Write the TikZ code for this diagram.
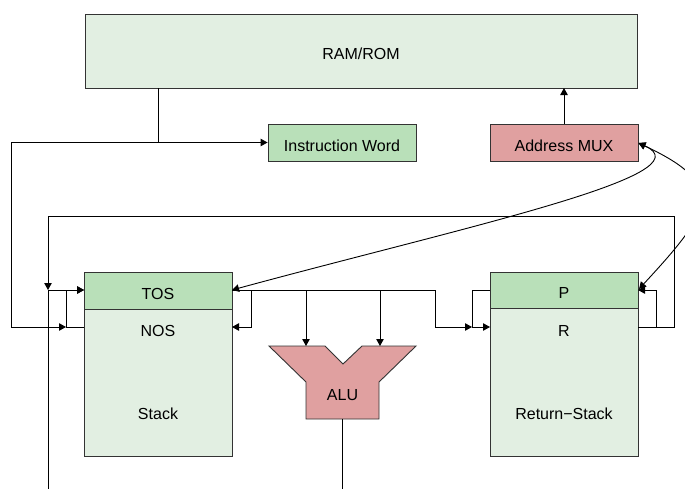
\documentclass[tikz,border=0pt]{standalone}
\usepackage{fontspec}
\setmainfont{Liberation Sans}
\usetikzlibrary{arrows.meta,calc}
\definecolor{lightgreen}{HTML}{E2EFE2}
\definecolor{midgreen}{HTML}{B9E0B9}
\definecolor{pinkred}{HTML}{E0A0A0}
\definecolor{edgegray}{HTML}{333333}
\tikzset{
  box/.style={draw=edgegray,line width=0.9pt,inner sep=0pt,font=\fontsize{16}{19}\selectfont,text height=17pt,text depth=0pt},
  conn/.style={draw=black,line width=0.9pt},
  arr/.style={conn,-{Triangle[length=7pt,width=7.5pt]}},
  arrboth/.style={conn,{Triangle[length=7pt,width=7.5pt]}-{Triangle[length=7pt,width=7.5pt]}},
  lbl/.style={font=\fontsize{16}{19}\selectfont,inner sep=0pt},
}
\begin{document}
\begin{tikzpicture}[x=1pt,y=-1pt]
\useasboundingbox (0,0) rectangle (685,488);
\clip (0,0) rectangle (685,488);
\fill[white] (0,0) rectangle (685,488);

% boxes
\node[box,fill=lightgreen,minimum width=552pt,minimum height=74pt] (ram) at (361,51) {RAM/ROM};
\node[box,fill=midgreen,minimum width=148pt,minimum height=37pt] (iw) at (342,142.5) {Instruction Word};
\node[box,fill=pinkred,minimum width=148pt,minimum height=37pt] (mux) at (564,142.5) {Address MUX};

\node[box,fill=lightgreen,minimum width=148pt,minimum height=147pt] (stack) at (158,382.5) {};
\node[box,fill=midgreen,minimum width=148pt,minimum height=37pt] (tos) at (158,290.5) {TOS};
\node[lbl] (nos) at (158,330.5) {NOS};
\node[lbl] (stacklbl) at (158,413.5) {Stack};

\node[box,fill=lightgreen,minimum width=148pt,minimum height=148pt] (rstack) at (564,382) {};
\node[box,fill=midgreen,minimum width=148pt,minimum height=36pt] (p) at (564,290) {P};
\node[lbl] (r) at (564,330.5) {R};
\node[lbl] (rslbl) at (564,413.5) {Return−Stack};

% ALU
\path[draw=edgegray,line width=0.9pt,fill=pinkred] (269,346) -- (325,346) -- (343,364) -- (362,346) -- (416,346)
  -- (379,382) -- (379,419) -- (306,419) -- (306,382) -- cycle;
\node[lbl] (alu) at (342.5,395.5) {ALU};
\coordinate (aluin1) at (306,346);
\coordinate (aluin2) at (380,346);
\coordinate (aluout) at (342,419);

% junction coordinates
\coordinate (ramtap) at (158,88);
\coordinate (iwrow) at (158,142.5);
\coordinate (leftbus) at (11,142.5);
\coordinate (leftlow) at (11,327);
\coordinate (nosin) at (84,327);
\coordinate (nosout) at (232,327);
\coordinate (tosin) at (84,290);
\coordinate (tosout) at (232,290);
\coordinate (jn1) at (66,327);
\coordinate (jn2) at (66,290);
\coordinate (topbusL) at (48,216);
\coordinate (topbusR) at (674,216);
\coordinate (bottomL) at (48,490);
\coordinate (colL) at (48,290);
\coordinate (tj1) at (251,290);
\coordinate (tj2) at (251,327);
\coordinate (tj3) at (306,290);
\coordinate (tj4) at (380,290);
\coordinate (tj5) at (435,290);
\coordinate (tj6) at (435,327);
\coordinate (rj1) at (472,290);
\coordinate (rj2) at (472,327);
\coordinate (pin) at (490,290);
\coordinate (rin) at (490,327);
\coordinate (rout) at (638,327);
\coordinate (pout) at (638,290);
\coordinate (rj3) at (656,327);
\coordinate (rj4) at (656,290);
\coordinate (rj5) at (674,327);
\coordinate (aluend) at (342,490);
\coordinate (muxtop) at (564,124);
\coordinate (ramin) at (564,88);
\coordinate (muxr) at (638.5,143);
\coordinate (pr) at (639,289);

% RAM -> instruction word and left bus
\draw[conn] (ramtap) -- (iwrow);
\draw[arr] (leftbus) -- (iw.west);
\draw[arr] (leftbus) -- (leftlow) -- (jn1);
% NOS -> TOS (left loop)
\draw[arr] (nosin) -- (jn1) -- (jn2) -- (tosin);
% bottom feed -> TOS
\draw[arr] (bottomL) -- (colL) -- (tosin);
% R -> top bus -> down
\draw[arr] (rout) -- (rj5) -- (topbusR) -- (topbusL) -- (colL);
% TOS outputs
\draw[conn] (tosout) -- (tj5);
\draw[arr] (tj1) -- (tj2) -- (nosout);
\draw[arr] (tj3) -- (aluin1);
\draw[arr] (tj4) -- (aluin2);
\draw[arr] (tj5) -- (tj6) -- (rj2);
% P -> R
\draw[arr] (pin) -- (rj1) -- (rj2) -- (rin);
% R -> P
\draw[arr] (rout) -- (rj3) -- (rj4) -- (pout);
% MUX -> RAM
\draw[arr] (muxtop) -- (ramin);
% ALU output
\draw[conn] (aluout) -- (aluend);
% curves
\draw[arrboth] (muxr) .. controls (710,175) and (460,228) .. (tosout);
\draw[arrboth] (muxr) .. controls (728,185) and (712,210) .. (pr);
\end{tikzpicture}
\end{document}
